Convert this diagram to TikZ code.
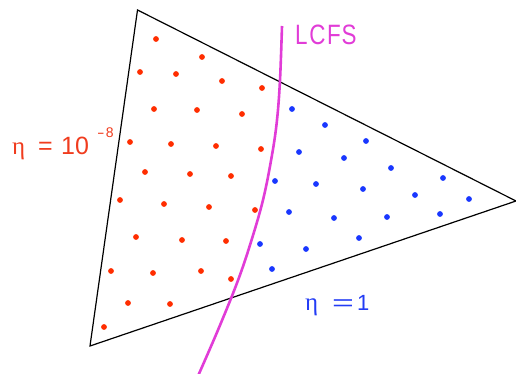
\documentclass[tikz,border=0pt]{standalone}
\usepackage{fontspec}
\setmainfont{Liberation Sans}
\newfontfamily\grk{Liberation Serif}
\definecolor{dotred}{RGB}{255,45,0}
\definecolor{dotblue}{RGB}{25,55,255}
\definecolor{lcfsmag}{RGB}{225,60,215}
\definecolor{txtred}{RGB}{240,60,30}
\definecolor{txtblue}{RGB}{35,60,245}
\tikzset{
  rdot/.style={fill=dotred},
  bdot/.style={fill=dotblue},
  lbl/.style={inner sep=0pt, anchor=base west},
}
\begin{document}
\begin{tikzpicture}[x=1pt,y=-1pt]
\useasboundingbox (0,0) rectangle (516,374);
\coordinate (T) at (137.5,10);
\coordinate (BL) at (90,346);
\coordinate (R) at (516,201);
\draw[line width=1.2pt, line join=miter] (T) -- (BL) -- (R) -- cycle;
% red dots
\foreach \p in {(156,39),(202,57),(140,72),(176,74),(222,81),(262,88),
  (154,109),(197,110),(242,114),(130,142),(171,144),(216,146),(261,149),
  (145,172),(190,174),(231,176),(120,200),(164,204),(209,207),(255,210),
  (136,237),(182,240),(226,241),(111,271),(153,273),(201,271),(231,279),
  (128,303),(170,304),(104,327)}
  \fill[rdot] \p circle (2.9);
% blue dots
\foreach \p in {(292,109),(325,125),(366,141),(299,152),(344,158),(391,168),
  (443,178),(275,181),(316,184),(363,189),(415,195),(469,199),(289,212),
  (334,218),(387,217),(440,214),(260,244),(306,249),(359,238),(272,269)}
  \fill[bdot] \p circle (2.9);
% LCFS
\draw[lcfsmag, line width=2.6pt] plot[smooth, tension=0.6] coordinates
  {(282,26) (280,80) (277,120) (272,155) (263,200) (250,245) (237,283) (218,330) (198,376)};
\node[lbl, text=lcfsmag] (lcfs) at (295,45)
  {\scalebox{0.8}[1]{\fontsize{28}{28}\selectfont L\hspace{2pt}C\hspace{2pt}F\hspace{1pt}S}};
\node[lbl, text=txtred] (etared) at (12,154)
  {\fontsize{25}{25}\selectfont\makebox[26pt][l]{\grk η}\makebox[23pt][l]{=}10\hspace{8pt}\raisebox{17pt}{\fontsize{14}{14}\selectfont\scalebox{1.6}[1]{-}\hspace{1.5pt}8}};
\node[lbl, text=txtblue] (etablue) at (305,310)
  {\fontsize{22}{22}\selectfont\makebox[27pt][l]{\fontsize{25}{25}\selectfont\grk η}\makebox[25pt][l]{\scalebox{1.7}[1]{=}}1};
\end{tikzpicture}
\end{document}
